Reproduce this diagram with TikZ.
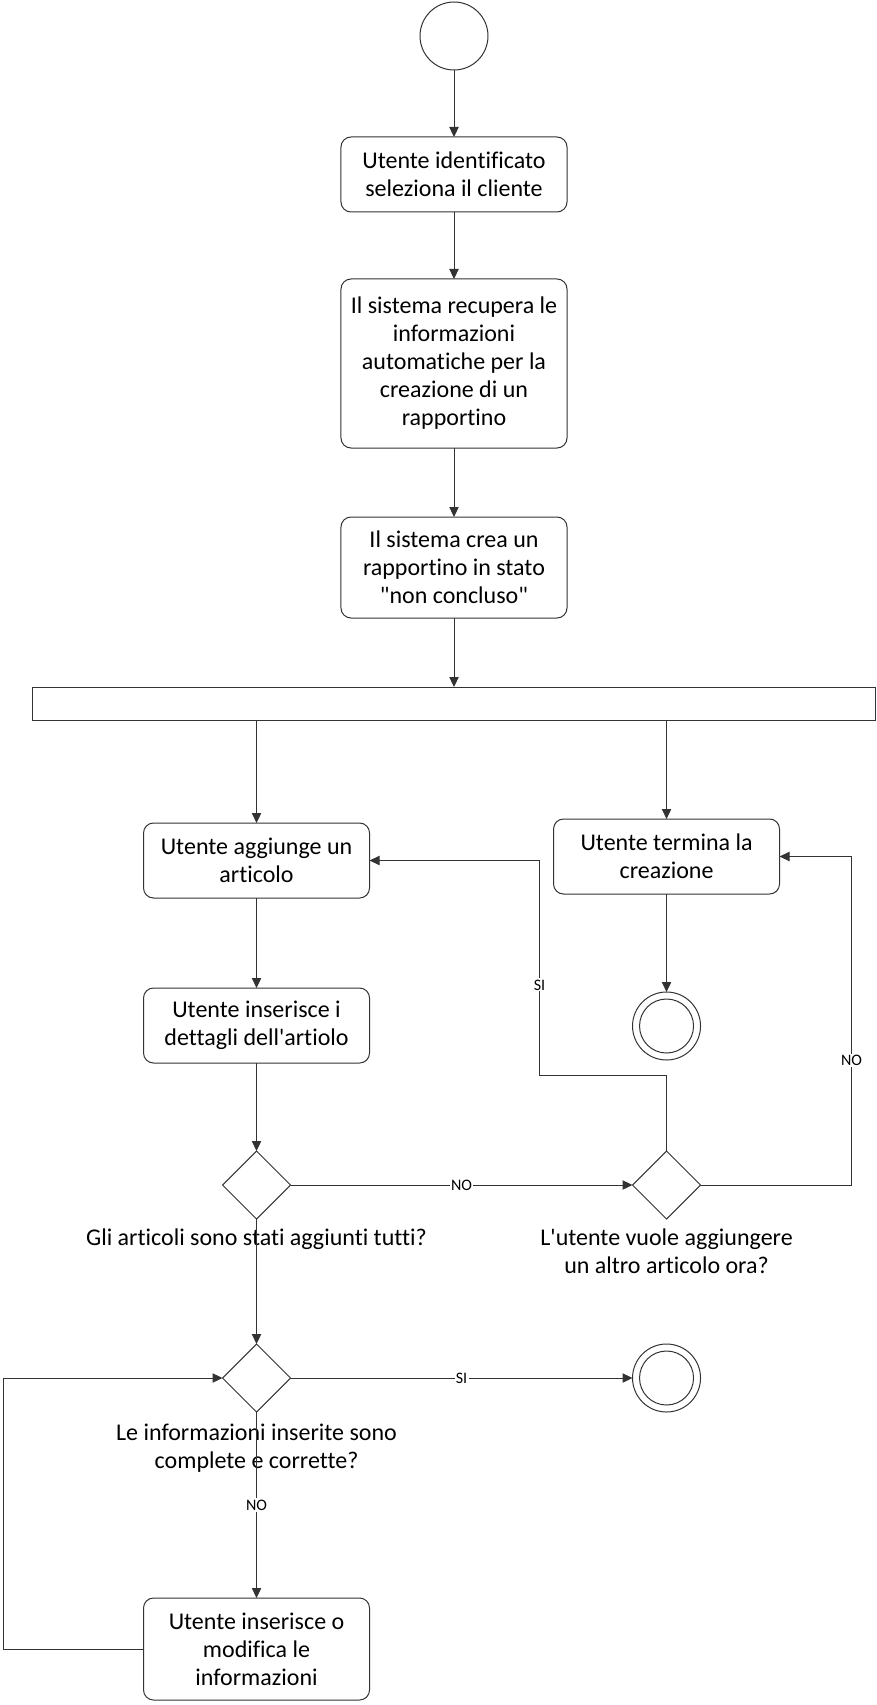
\documentclass[tikz,border=0pt]{standalone}
\usepackage{fontspec}
\setmainfont{Carlito}[Ligatures={TeXOff, CommonOff}]
\usepackage{tikz}
\usetikzlibrary{shapes.geometric, arrows.meta, positioning}

\begin{document}
\begin{tikzpicture}[>={Triangle[length=7.5pt, width=7pt]}, font=\fontsize{18pt}{21pt}\selectfont, align=center,
  flow/.style={draw=black!80, line width=0.75pt},
  act/.style={flow, rounded corners=7.5pt, minimum width=169.5pt, minimum height=56.25pt, inner sep=2pt, outer sep=0pt},
  initial/.style={flow, circle, minimum size=51pt, inner sep=0pt, outer sep=0pt},
  final/.style={initial, path picture={\draw[flow] (path picture bounding box.center) circle[radius=20.25pt];}},
  decision/.style={flow, diamond, minimum width=51pt, minimum height=51pt, inner sep=0pt, outer sep=0pt},
  fork/.style={flow, minimum width=632.25pt, minimum height=24.75pt, inner sep=0pt, outer sep=0pt},
  cond/.style={inner sep=0pt},
  lab/.style={fill=white, inner sep=1pt, font=\fontsize{12pt}{14pt}\selectfont}]
  \useasboundingbox (-340.5pt,27pt) rectangle (317.25pt,-1251.75pt);

  \node[initial] (start) at (0,0) {};
  \node[act, below=50.25pt of start] (b1) {Utente identificato\\seleziona il cliente};
  \node[act, below=50.25pt of b1, minimum height=126.75pt] (b2) {Il sistema recupera le\\informazioni\\automatiche per la\\creazione di un\\rapportino};
  \node[act, below=51.75pt of b2, minimum height=75.75pt] (b3) {Il sistema crea un\\rapportino in stato\\"non concluso"};
  \node[fork, below=51.75pt of b3] (bar) {};

  \node[act, below=77.25pt of bar, xshift=-148.1pt] (add) {Utente aggiunge un\\articolo};
  \node[act, below=74.25pt of bar, xshift=159.4pt] (term) {Utente termina la\\creazione};
  \node[final, below=73.5pt of term] (end1) {};
  \node[act, below=67.5pt of add] (det) {Utente inserisce i\\dettagli dell'artiolo};

  \node[decision, below=66pt of det] (d1) {};
  \node[decision, right=256.5pt of d1] (d2) {};
  \node[cond, below=7pt of d1] (q1) {Gli articoli sono stati aggiunti tutti?};
  \node[cond, below=7pt of d2] (q2) {L'utente vuole aggiungere\\un altro articolo ora?};

  \node[decision, below=93.75pt of d1] (d3) {};
  \node[final, right=256.5pt of d3] (end2) {};
  \node[cond, below=9pt of d3] (q3) {Le informazioni inserite sono\\complete e corrette?};
  \node[act, below=139.5pt of d3, minimum height=76.5pt] (mod) {Utente inserisce o\\modifica le\\informazioni};

  \coordinate[right=127.5pt of add.east] (siturn);
  \coordinate[right=54pt of term.east] (noturn);

  \draw[flow, ->] (start) -- (b1);
  \draw[flow, ->] (b1) -- (b2);
  \draw[flow, ->] (b2) -- (b3);
  \draw[flow, ->] (b3) -- (bar);
  \draw[flow, ->] (bar.south -| add.north) -- (add);
  \draw[flow, ->] (bar.south -| term.north) -- (term);
  \draw[flow, ->] (term) -- (end1);
  \draw[flow, ->] (add) -- (det);
  \draw[flow, ->] (det) -- (d1);
  \draw[flow, ->] (d1) -- (d2) node[lab, midway] {NO};
  \draw[flow, ->] (d2.north) -- ++(0,57pt) -| (siturn) node[lab, pos=0.71] {SI} -- (add.east);
  \draw[flow, ->] (d2.east) -| (noturn) node[lab, pos=0.69] {NO} -- (term.east);
  \draw[flow, ->] (d1) -- (d3);
  \draw[flow, ->] (d3) -- (end2) node[lab, midway] {SI};
  \draw[flow, ->] (d3) -- (mod) node[lab, midway] {NO};
  \draw[flow, ->] (mod.west) -- ++(-105pt,0) |- (d3.west);
\end{tikzpicture}
\end{document}
